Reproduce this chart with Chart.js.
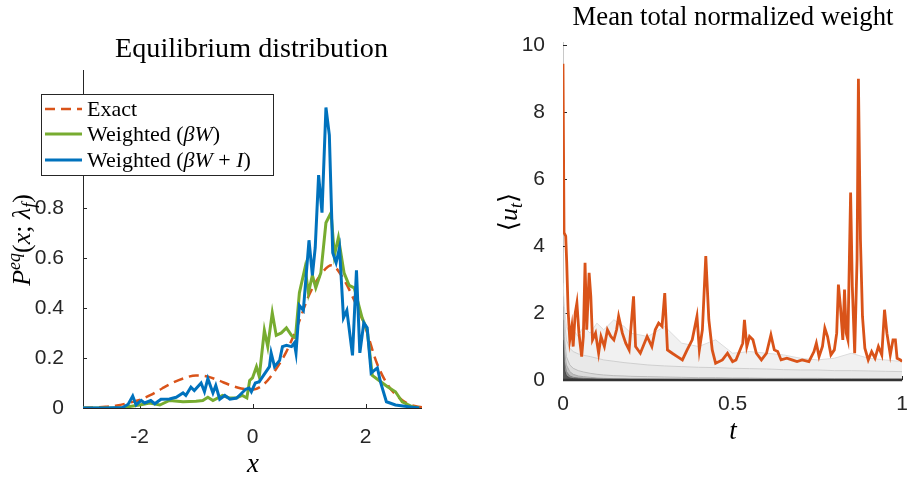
<!DOCTYPE html>
<html><head><meta charset="utf-8">
<script src="https://cdn.jsdelivr.net/npm/chart.js@4.4.0/dist/chart.umd.min.js"></script>
<style>
html,body{margin:0;padding:0;background:#fff;width:912px;height:477px;overflow:hidden}
#c1{position:absolute;left:0;top:0}
#c2{position:absolute;left:460px;top:0}
</style></head><body>
<canvas id="c1" width="460" height="477"></canvas>
<canvas id="c2" width="452" height="477"></canvas>
<script>
// ---------- Left panel data ----------
const exactX = [-3,-2.8,-2.6,-2.4,-2.2,-2,-1.8,-1.6,-1.4,-1.2,-1,-0.8,-0.6,-0.4,-0.2,0,0.2,0.4,0.6,0.8,1,1.2,1.4,1.6,1.8,2,2.2,2.4,2.6,2.8,3];
const exactY = [0,0.002,0.005,0.01,0.02,0.032,0.052,0.078,0.102,0.12,0.13,0.126,0.11,0.092,0.078,0.073,0.095,0.15,0.225,0.33,0.45,0.53,0.57,0.52,0.43,0.32,0.18,0.09,0.04,0.012,0.003];

const greenX = [-3,-2.3,-2.2,-2,-1.82,-1.64,-1.47,-1.23,-1,-0.88,-0.79,-0.7,-0.53,-0.41,-0.29,-0.18,-0.1,-0.05,0,0.07,0.12,0.21,0.27,0.35,0.42,0.51,0.6,0.69,0.76,0.83,0.93,0.99,1.06,1.12,1.21,1.3,1.39,1.45,1.52,1.62,1.71,1.8,1.94,2.03,2.12,2.27,2.39,2.53,2.65,2.83,2.95];
const greenY = [0,0,0.005,0.012,0.02,0.012,0.03,0.025,0.027,0.03,0.043,0.03,0.05,0.04,0.04,0.05,0.04,0.11,0.12,0.165,0.125,0.31,0.245,0.38,0.29,0.3,0.32,0.29,0.28,0.46,0.56,0.46,0.53,0.48,0.54,0.74,0.78,0.61,0.68,0.54,0.49,0.48,0.36,0.31,0.13,0.105,0.085,0.065,0.025,0.005,0];

const blueX = [-3,-2.6,-2.3,-2.2,-2.12,-2.06,-1.97,-1.91,-1.8,-1.73,-1.62,-1.47,-1.35,-1.23,-1.18,-1.09,-1.03,-0.91,-0.85,-0.79,-0.7,-0.65,-0.58,-0.49,-0.4,-0.28,-0.21,-0.12,-0.06,-0.02,0.05,0.12,0.18,0.3,0.33,0.39,0.48,0.53,0.6,0.69,0.74,0.77,0.83,0.9,1,1.06,1.11,1.17,1.23,1.3,1.36,1.42,1.48,1.54,1.61,1.67,1.77,1.84,1.9,1.97,2.03,2.1,2.21,2.27,2.37,2.53,2.83,2.95];
const blueY = [0,0,0.002,0.015,0.048,0.012,0.03,0.02,0.03,0.017,0.035,0.036,0.043,0.06,0.05,0.083,0.07,0.1,0.065,0.117,0.06,0.09,0.035,0.05,0.035,0.04,0.055,0.075,0.08,0.065,0.1,0.105,0.125,0.165,0.22,0.165,0.19,0.245,0.25,0.245,0.26,0.22,0.41,0.39,0.67,0.53,0.64,0.93,0.78,1.2,1.09,0.62,0.58,0.64,0.36,0.39,0.21,0.55,0.22,0.34,0.32,0.14,0.16,0.1,0.025,0.012,0.003,0];

const leftXTicks = [-2, 0, 2];
const leftYTicks = [0, 0.2, 0.4, 0.6, 0.8, 1, 1.2];

// ---------- Right panel data ----------
const orangeT = [0,0.003,0.008,0.011,0.015,0.02,0.026,0.03,0.036,0.041,0.047,0.055,0.06,0.065,0.07,0.077,0.082,0.087,0.096,0.105,0.112,0.122,0.131,0.141,0.15,0.158,0.164,0.175,0.185,0.195,0.208,0.214,0.228,0.248,0.262,0.272,0.282,0.292,0.3,0.308,0.322,0.337,0.352,0.366,0.381,0.395,0.402,0.411,0.421,0.43,0.44,0.45,0.47,0.485,0.5,0.51,0.53,0.535,0.542,0.55,0.56,0.57,0.585,0.6,0.613,0.623,0.633,0.643,0.66,0.675,0.69,0.705,0.725,0.74,0.747,0.755,0.765,0.772,0.78,0.79,0.8,0.807,0.812,0.818,0.825,0.83,0.835,0.84,0.848,0.853,0.86,0.867,0.871,0.877,0.883,0.89,0.9,0.91,0.92,0.93,0.94,0.948,0.955,0.965,0.973,0.98,0.985,0.995,1];
const orangeU = [9.45,4.4,4.3,3.5,2.1,1.2,1.6,1.0,2.0,2.3,1.4,0.7,1.3,3.5,1.5,3.2,2.5,1.2,1.4,0.8,1.3,1.0,1.5,1.3,1.2,1.5,1.9,1.4,1.1,0.9,2.5,1.0,0.8,1.3,1.0,1.5,1.7,1.6,2.6,0.9,0.8,0.7,0.6,0.9,1.2,1.9,0.9,1.5,3.7,1.8,0.9,0.5,0.6,0.8,0.55,0.6,1.1,1.8,1.0,1.3,1.2,0.8,0.6,0.8,1.35,0.9,0.85,0.6,0.65,0.6,0.55,0.6,0.55,0.85,1.1,0.7,1.0,1.55,1.3,0.75,0.9,1.4,2.85,2.2,1.2,2.7,1.4,1.2,5.6,2.8,0.8,3.6,9.0,4.2,1.9,0.95,0.6,0.85,0.65,1.0,0.75,2.1,1.4,0.75,1.2,1.2,0.65,0.6,0.55];

const bandT = [0,0.004,0.01,0.02,0.03,0.045,0.06,0.08,0.1,0.12,0.15,0.18,0.2,0.25,0.3,0.35,0.4,0.45,0.5,0.55,0.6,0.65,0.7,0.75,0.8,0.85,0.9,0.95,1];
const band1 = [2.9,2.2,1.6,1.4,1.5,1.3,1.6,1.4,1.7,1.5,1.8,1.6,1.4,1.3,1.6,1.1,1.0,1.2,0.8,0.85,0.8,0.75,0.65,0.6,0.65,0.8,0.65,0.6,0.55];
const band2 = [2.7,1.8,1.2,0.95,0.85,0.78,0.74,0.7,0.65,0.6,0.56,0.52,0.5,0.45,0.42,0.4,0.38,0.37,0.35,0.34,0.33,0.31,0.3,0.3,0.28,0.28,0.27,0.26,0.25];
const band3 = [2.5,1.3,0.7,0.45,0.35,0.28,0.24,0.2,0.17,0.15,0.13,0.12,0.11,0.1,0.09,0.08,0.07,0.07,0.06,0.06,0.05,0.05,0.05,0.05,0.04,0.04,0.04,0.04,0.04];
const band4 = [2.2,0.9,0.45,0.25,0.17,0.12,0.1,0.08,0.06,0.05,0.04,0.035,0.03,0.03,0.025,0.02,0.02,0.02,0.02,0.02,0.02,0.02,0.02,0.02,0.02,0.02,0.02,0.02,0.02];
const band5 = [1.8,0.55,0.25,0.12,0.08,0.06,0.05,0.04,0.03,0.025,0.02,0.02,0.015,0.015,0.01,0.01,0.01,0.01,0.01,0.01,0.01,0.01,0.01,0.01,0.01,0.01,0.01,0.01,0.01];
const band6 = [1.2,0.3,0.12,0.06,0.04,0.03,0.02,0.02,0.015,0.01,0.01,0.01,0.01,0.005,0.005,0.005,0.005,0.005,0.005,0.005,0.005,0.005,0.005,0.005,0.005,0.005,0.005,0.005,0.005];

const rightXTicks = [0, 0.5, 1];
const rightYTicks = [0, 2, 4, 6, 8, 10];

// ---------- helpers ----------
const SANS = "'Liberation Sans', Arial, Helvetica, sans-serif";
const SERIF = "'Liberation Serif', 'Times New Roman', serif";
const INK = '#262626';
const xy = (xs, ys) => xs.map((x, i) => ({x: x, y: ys[i]}));
const fixedTicks = arr => scale => { scale.ticks = arr.map(v => ({value: v})); };

function rich(ctx, segs, x, y, align) {
  let w = 0;
  for (const s of segs) { ctx.font = s[1]; w += ctx.measureText(s[0]).width; }
  let cx = align === 'center' ? x - w / 2 : x;
  ctx.textAlign = 'left'; ctx.textBaseline = 'alphabetic';
  for (const s of segs) { ctx.font = s[1]; ctx.fillText(s[0], cx, y + (s[2] || 0)); cx += ctx.measureText(s[0]).width; }
  return w;
}

function axesPlugin(cfg) {
  return {
    id: 'axesDraw',
    beforeDatasetsDraw(chart) {
      const {ctx, chartArea: a, scales} = chart;
      ctx.save();
      ctx.lineCap = 'butt';
      ctx.strokeStyle = cfg.leftColor; ctx.lineWidth = 1;
      ctx.beginPath(); ctx.moveTo(a.left + 0.5, a.top); ctx.lineTo(a.left + 0.5, a.bottom); ctx.stroke();
      ctx.strokeStyle = INK;
      for (const v of cfg.yt) {
        const py = Math.round(scales.y.getPixelForValue(v)) + 0.5;
        ctx.beginPath(); ctx.moveTo(a.left, py); ctx.lineTo(a.left + 4, py); ctx.stroke();
      }
      for (const v of cfg.xt) {
        const px = Math.round(scales.x.getPixelForValue(v)) + 0.5;
        ctx.beginPath(); ctx.moveTo(px, a.bottom); ctx.lineTo(px, a.bottom - 4); ctx.stroke();
      }
      ctx.restore();
    },
    afterDatasetsDraw(chart) {
      const {ctx, chartArea: a} = chart;
      ctx.save();
      ctx.strokeStyle = cfg.bottomColor; ctx.lineWidth = cfg.bottomWidth;
      ctx.beginPath(); ctx.moveTo(a.left, a.bottom + cfg.bottomOff); ctx.lineTo(a.right, a.bottom + cfg.bottomOff); ctx.stroke();
      ctx.restore();
    }
  };
}

// ---------- Left chart ----------
const leftText = {
  id: 'leftText',
  afterDraw(chart) {
    const ctx = chart.ctx;
    ctx.save();
    ctx.fillStyle = '#000';
    ctx.font = `24px ${SERIF}`;
    const tw = ctx.measureText('Equilibrium distribution').width;
    const ts = 24 * 273 / tw;
    rich(ctx, [['Equilibrium distribution', `${ts}px ${SERIF}`]], 251.5, 57, 'center');
    rich(ctx, [['x', `italic 27px ${SERIF}`]], 253, 472, 'center');
    ctx.translate(30, 240);
    ctx.rotate(-Math.PI / 2);
    rich(ctx, [
      ['P', `italic 26px ${SERIF}`],
      ['eq', `italic 18px ${SERIF}`, -10],
      ['(', `26px ${SERIF}`],
      ['x', `italic 26px ${SERIF}`],
      ['; ', `26px ${SERIF}`],
      ['λ', `italic 26px ${SERIF}`],
      ['f', `italic 18px ${SERIF}`, 5],
      [')', `26px ${SERIF}`]
    ], 0, 0, 'center');
    ctx.restore();

    // legend
    ctx.save();
    const L = 41, T = 94, R = 274, B = 176;
    ctx.fillStyle = '#fff';
    ctx.fillRect(L, T, R - L, B - T);
    ctx.strokeStyle = INK; ctx.lineWidth = 1;
    ctx.strokeRect(L + 0.5, T + 0.5, R - L - 1, B - T - 1);
    const rows = [
      {y: 109, color: '#D95319', dash: [10, 6], w: 2.5, segs: [['Exact', `22px ${SERIF}`]]},
      {y: 134, color: '#77AC30', dash: [], w: 3, segs: [['Weighted (', `22px ${SERIF}`], ['βW', `italic 22px ${SERIF}`], [')', `22px ${SERIF}`]]},
      {y: 160, color: '#0072BD', dash: [], w: 3, segs: [['Weighted (', `22px ${SERIF}`], ['βW', `italic 22px ${SERIF}`], [' + ', `22px ${SERIF}`], ['I', `italic 22px ${SERIF}`], [')', `22px ${SERIF}`]]}
    ];
    for (const r of rows) {
      ctx.strokeStyle = r.color; ctx.lineWidth = r.w; ctx.setLineDash(r.dash);
      ctx.beginPath(); ctx.moveTo(45, r.y); ctx.lineTo(82, r.y); ctx.stroke();
      ctx.setLineDash([]);
      ctx.fillStyle = '#000';
      rich(ctx, r.segs, 87, r.y + 7, 'left');
    }
    ctx.restore();
  }
};

new Chart(document.getElementById('c1'), {
  type: 'line',
  data: {
    datasets: [
      {label: 'Weighted (βW + I)', data: xy(blueX, blueY), borderColor: '#0072BD', borderWidth: 3, pointRadius: 0, tension: 0, fill: false},
      {label: 'Weighted (βW)', data: xy(greenX, greenY), borderColor: '#77AC30', borderWidth: 3, pointRadius: 0, tension: 0, fill: false},
      {label: 'Exact', data: xy(exactX, exactY), borderColor: '#D95319', borderWidth: 2.5, borderDash: [10, 6], pointRadius: 0, cubicInterpolationMode: 'monotone', fill: false}
    ]
  },
  options: {
    responsive: false, animation: false, devicePixelRatio: 1,
    layout: {padding: {left: 0, right: 38, top: 70, bottom: 0}},
    plugins: {legend: {display: false}, tooltip: {enabled: false}, title: {display: false}},
    scales: {
      x: {type: 'linear', min: -3, max: 3, afterBuildTicks: fixedTicks(leftXTicks),
          grid: {display: false}, border: {display: false},
          ticks: {font: {family: SANS, size: 21}, color: INK, padding: 9, maxRotation: 0, autoSkip: false, callback: v => String(v)},
          afterFit: s => { s.height = 69; }},
      y: {type: 'linear', min: 0, max: 1.35, afterBuildTicks: fixedTicks(leftYTicks),
          grid: {display: false}, border: {display: false},
          ticks: {font: {family: SANS, size: 21}, color: INK, padding: 11, autoSkip: false, callback: v => (v > 0.9 ? '' : String(v))},
          afterFit: s => { s.width = 83; }}
    }
  },
  plugins: [axesPlugin({yt: leftYTicks, xt: leftXTicks, leftColor: INK, bottomColor: INK, bottomWidth: 1, bottomOff: 0.5}), leftText]
});

// ---------- Right chart ----------
const rightText = {
  id: 'rightText',
  afterDraw(chart) {
    const ctx = chart.ctx;
    ctx.save();
    ctx.fillStyle = '#000';
    ctx.font = `24px ${SERIF}`;
    const tw = ctx.measureText('Mean total normalized weight').width;
    const ts = 24 * 321 / tw;
    rich(ctx, [['Mean total normalized weight', `${ts}px ${SERIF}`]], 273, 25, 'center');
    rich(ctx, [['t', `italic 27px ${SERIF}`]], 273, 439, 'center');
    ctx.translate(57, 212);
    ctx.rotate(-Math.PI / 2);
    rich(ctx, [
      ['⟨', `26px 'DejaVu Serif', ${SERIF}`],
      ['u', `italic 26px ${SERIF}`],
      ['t', `italic 18px ${SERIF}`, 5],
      ['⟩', `26px 'DejaVu Serif', ${SERIF}`]
    ], 0, 0, 'center');
    ctx.restore();
  }
};

const band = (vals, bg, bc) => ({data: xy(bandT, vals), backgroundColor: bg, borderColor: bc, borderWidth: 1, pointRadius: 0, tension: 0, fill: 'origin'});

new Chart(document.getElementById('c2'), {
  type: 'line',
  data: {
    datasets: [
      {label: 'mean weight', data: xy(orangeT, orangeU), borderColor: '#D95319', borderWidth: 2.8, pointRadius: 0, tension: 0, fill: false},
      band(band6, '#555555', '#4a4a4a'),
      band(band5, '#8f8f8f', '#808080'),
      band(band4, '#bdbdbd', '#aaaaaa'),
      band(band3, '#dcdcdc', '#bcbcbc'),
      band(band2, '#e9e9e9', '#cfcfcf'),
      band(band1, '#f1f1f1', '#dcdcdc')
    ]
  },
  options: {
    responsive: false, animation: false, devicePixelRatio: 1,
    layout: {padding: {left: 0, right: 8, top: 42, bottom: 0}},
    plugins: {legend: {display: false}, tooltip: {enabled: false}, title: {display: false}},
    scales: {
      x: {type: 'linear', min: 0, max: 1, afterBuildTicks: fixedTicks(rightXTicks),
          grid: {display: false}, border: {display: false},
          ticks: {font: {family: SANS, size: 21}, color: INK, padding: 4, maxRotation: 0, autoSkip: false, callback: v => String(v)},
          afterFit: s => { s.height = 97; }},
      y: {type: 'linear', min: 0, max: 10.1, afterBuildTicks: fixedTicks(rightYTicks),
          grid: {display: false}, border: {display: false},
          ticks: {font: {family: SANS, size: 21}, color: INK, padding: 10, autoSkip: false, callback: v => String(v)},
          afterFit: s => { s.width = 103; }}
    }
  },
  plugins: [axesPlugin({yt: rightYTicks, xt: rightXTicks, leftColor: '#c8c8c8', bottomColor: '#333333', bottomWidth: 2.5, bottomOff: 0}), rightText]
});
</script>
</body></html>
